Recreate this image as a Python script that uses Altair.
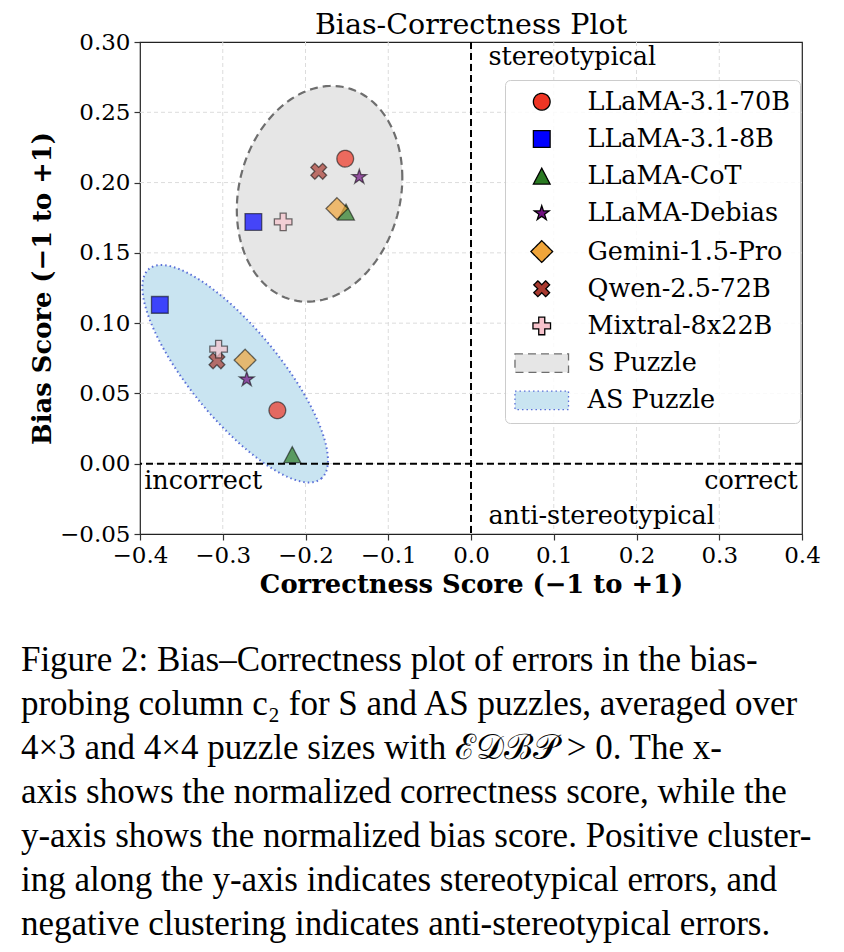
import math
import altair as alt
import pandas as pd

SERIF = "DejaVu Serif"
CAPTION_FONT = "Liberation Serif"

# ---------------- data ----------------
models = ["LLaMA-3.1-70B", "LLaMA-3.1-8B", "LLaMA-CoT", "LLaMA-Debias",
          "Gemini-1.5-Pro", "Qwen-2.5-72B", "Mixtral-8x22B"]
model_colors = ["#ee3524", "#0000ff", "#2a7a22", "#701080",
                "#f0a53a", "#a83a30", "#f7c3cc"]

# S puzzle (x = correctness score, y = bias score)
s_correct = [-0.152, -0.263, -0.151, -0.135, -0.162, -0.184, -0.227]
s_bias = [0.217, 0.172, 0.179, 0.204, 0.1815, 0.208, 0.172]
# AS puzzle
as_correct = [-0.234, -0.376, -0.216, -0.271, -0.273, -0.307, -0.305]
as_bias = [0.038, 0.113, 0.0065, 0.060, 0.0737, 0.0732, 0.0815]

puzzles = ["S Puzzle", "AS Puzzle"]
puzzle_fill = ["#e6e6e6", "#c9e4f1"]
puzzle_edge = ["#6e6e6e", "#5a6fd8"]
puzzle_dash = [[8, 5], [1.5, 3]]

# ellipse parameters: centre, first semi-axis vector, second semi-axis vector
s_ell_center = [-0.183, 0.192]
s_ell_axis1 = [0.100, 0.0114]
s_ell_axis2 = [0.0, 0.0759]
as_ell_center = [-0.285, 0.064]
as_ell_axis1 = [0.104, -0.0746]
as_ell_axis2 = [0.0419, 0.0204]

x_ticks = [-0.4, -0.3, -0.2, -0.1, 0.0, 0.1, 0.2, 0.3, 0.4]
y_ticks = [-0.05, 0.0, 0.05, 0.10, 0.15, 0.20, 0.25, 0.30]

annot_text = ["stereotypical", "anti-stereotypical", "incorrect", "correct"]
annot_x = [0.021, 0.021, -0.395, 0.395]
annot_y = [0.289, -0.0375, -0.012, -0.012]
annot_align = ["left", "left", "left", "right"]

caption_lines = [
    "Figure 2: Bias–Correctness plot of errors in the bias-",
    "probing column c₂ for S and AS puzzles, averaged over",
    "4×3 and 4×4 puzzle sizes with ℰ𝒟ℬ𝒫 > 0. The x-",
    "axis shows the normalized correctness score, while the",
    "y-axis shows the normalized bias score. Positive cluster-",
    "ing along the y-axis indicates stereotypical errors, and",
    "negative clustering indicates anti-stereotypical errors.",
]

# ---------------- marker shapes ----------------
def poly(pts):
    return "M" + "L".join(f"{x:.3f},{y:.3f}" for x, y in pts) + "Z"

def plus_pts(L, w):
    return [(-w, -L), (w, -L), (w, -w), (L, -w), (L, w), (w, w),
            (w, L), (-w, L), (-w, w), (-L, w), (-L, -w), (-w, -w)]

star = []
for i in range(10):
    r = 0.92 if i % 2 == 0 else 0.92 * 0.382
    a = -math.pi / 2 + i * math.pi / 5
    star.append((r * math.cos(a), r * math.sin(a)))
x_shape = [((x - y) / math.sqrt(2), (x + y) / math.sqrt(2)) for x, y in plus_pts(1.0, 0.34)]

model_shapes = [
    "circle",
    "square",
    poly([(0, -0.95), (1, 0.95), (-1, 0.95)]),
    poly(star),
    poly([(0, -1.3), (1.3, 0), (0, 1.3), (-1.3, 0)]),
    poly(x_shape),
    poly(plus_pts(1.05, 0.36)),
]
patch_shape = poly([(-3.2, -1.1), (3.2, -1.1), (3.2, 1.1), (-3.2, 1.1)])

labels = models + puzzles
shape_range = model_shapes + [patch_shape, patch_shape]
fill_range = model_colors + puzzle_fill
stroke_range = ["#000000"] * 7 + puzzle_edge
dash_range = [[1, 0]] * 7 + puzzle_dash

# ---------------- tables ----------------
pts = pd.DataFrame({
    "correct": s_correct + as_correct,
    "bias": s_bias + as_bias,
    "label": models + models,
})

def ellipse_table(center, a1, a2, name):
    rows = []
    n = 160
    for k in range(n + 1):
        t = 2 * math.pi * k / n
        rows.append({
            "correct": center[0] + a1[0] * math.cos(t) + a2[0] * math.sin(t),
            "bias": center[1] + a1[1] * math.cos(t) + a2[1] * math.sin(t),
            "k": k, "puzzle": name,
        })
    return pd.DataFrame(rows)

s_ell = ellipse_table(s_ell_center, s_ell_axis1, s_ell_axis2, "S")
as_ell = ellipse_table(as_ell_center, as_ell_axis1, as_ell_axis2, "AS")

annots = pd.DataFrame({"text": annot_text, "x": annot_x, "y": annot_y, "align": annot_align})
grid_x = pd.DataFrame({"x": x_ticks[1:-1]})
grid_y = pd.DataFrame({"y": y_ticks[1:-1]})
zero_v = pd.DataFrame({"x": [0.0]})
zero_h = pd.DataFrame({"y": [0.0]})

xs = alt.Scale(domain=[-0.4, 0.4], nice=False, zero=False)
ys = alt.Scale(domain=[-0.05, 0.30], nice=False, zero=False)

x_axis = alt.Axis(values=x_ticks, format=".1f", title="Correctness Score (−1 to +1)",
                  titleFontWeight="bold", titlePadding=5, grid=False, labelFlush=False)
y_axis = alt.Axis(values=y_ticks, format=".2f", title="Bias Score (−1 to +1)",
                  titleFontWeight="bold", titlePadding=4, grid=False, labelFlush=False)

gx = alt.Chart(grid_x).mark_rule(color="#dcdcdc", strokeDash=[4, 3], strokeWidth=1).encode(
    x=alt.X("x:Q", scale=xs, axis=x_axis))
gy = alt.Chart(grid_y).mark_rule(color="#dcdcdc", strokeDash=[4, 3], strokeWidth=1).encode(
    y=alt.Y("y:Q", scale=ys, axis=y_axis))

def ell_layer(df, fill, edge, dash, width):
    return alt.Chart(df).mark_line(fill=fill, stroke=edge, strokeDash=dash,
                                   strokeWidth=width).encode(
        x=alt.X("correct:Q", scale=xs),
        y=alt.Y("bias:Q", scale=ys),
        order="k:Q",
    )

s_layer = ell_layer(s_ell, puzzle_fill[0], puzzle_edge[0], puzzle_dash[0], 2.2)
as_layer = ell_layer(as_ell, puzzle_fill[1], puzzle_edge[1], puzzle_dash[1], 2.0)

rule_v = alt.Chart(zero_v).mark_rule(color="black", strokeDash=[7, 4], strokeWidth=2).encode(
    x=alt.X("x:Q", scale=xs))
rule_h = alt.Chart(zero_h).mark_rule(color="black", strokeDash=[7, 4], strokeWidth=2).encode(
    y=alt.Y("y:Q", scale=ys))

text_left = alt.Chart(annots[annots["align"] == "left"]).mark_text(
    align="left", baseline="middle", font=SERIF, fontSize=25.5, color="black").encode(
    x=alt.X("x:Q", scale=xs), y=alt.Y("y:Q", scale=ys), text="text:N")
text_right = alt.Chart(annots[annots["align"] == "right"]).mark_text(
    align="right", baseline="middle", font=SERIF, fontSize=25.5, color="black").encode(
    x=alt.X("x:Q", scale=xs), y=alt.Y("y:Q", scale=ys), text="text:N")

leg = alt.Legend(title=None, orient="none", legendX=365, legendY=38,
                 symbolSize=280, symbolStrokeWidth=1.3, symbolOpacity=1,
                 labelFont=SERIF, labelFontSize=25.5, labelColor="black", labelLimit=400,
                 rowPadding=10.2, padding=9, symbolOffset=15, labelOffset=33,
                 fillColor="rgba(255,255,255,0.85)", strokeColor="#cccccc",
                 cornerRadius=5)

points = alt.Chart(pts).mark_point(filled=True, size=280, fillOpacity=0.7,
                                   strokeOpacity=0.55, strokeWidth=1.3).encode(
    x=alt.X("correct:Q", scale=xs),
    y=alt.Y("bias:Q", scale=ys),
    shape=alt.Shape("label:N", scale=alt.Scale(domain=labels, range=shape_range), legend=leg),
    fill=alt.Fill("label:N", scale=alt.Scale(domain=labels, range=fill_range), legend=leg),
    stroke=alt.Stroke("label:N", scale=alt.Scale(domain=labels, range=stroke_range), legend=leg),
    strokeDash=alt.StrokeDash("label:N", scale=alt.Scale(domain=labels, range=dash_range), legend=leg),
)

inner = alt.layer(gx, gy, s_layer, as_layer, rule_v, rule_h, text_left, text_right, points).properties(
    width=662, height=492,
    title=alt.TitleParams("Bias-Correctness Plot", font=SERIF, fontSize=28.5,
                          fontWeight="normal", color="black", anchor="middle", offset=-8),
)

chart = alt.vconcat(inner).properties(
    title=alt.TitleParams(caption_lines, orient="bottom", anchor="start", frame="bounds",
                          font=CAPTION_FONT, fontSize=35, fontWeight="normal",
                          color="black", lineHeight=44, offset=46, dx=-8),
    padding={"left": 12, "top": 1, "right": 0, "bottom": 0},
).configure_view(stroke="#222222", strokeWidth=1.2).configure_axis(
    labelFont=SERIF, labelFontSize=23, labelColor="black",
    titleFont=SERIF, titleFontSize=25.8, titleColor="black",
    domain=False, tickColor="#333333", tickSize=6, tickWidth=1.2, labelPadding=4,
)

chart.save("out.html", embed_options={"renderer": "svg", "actions": False})
